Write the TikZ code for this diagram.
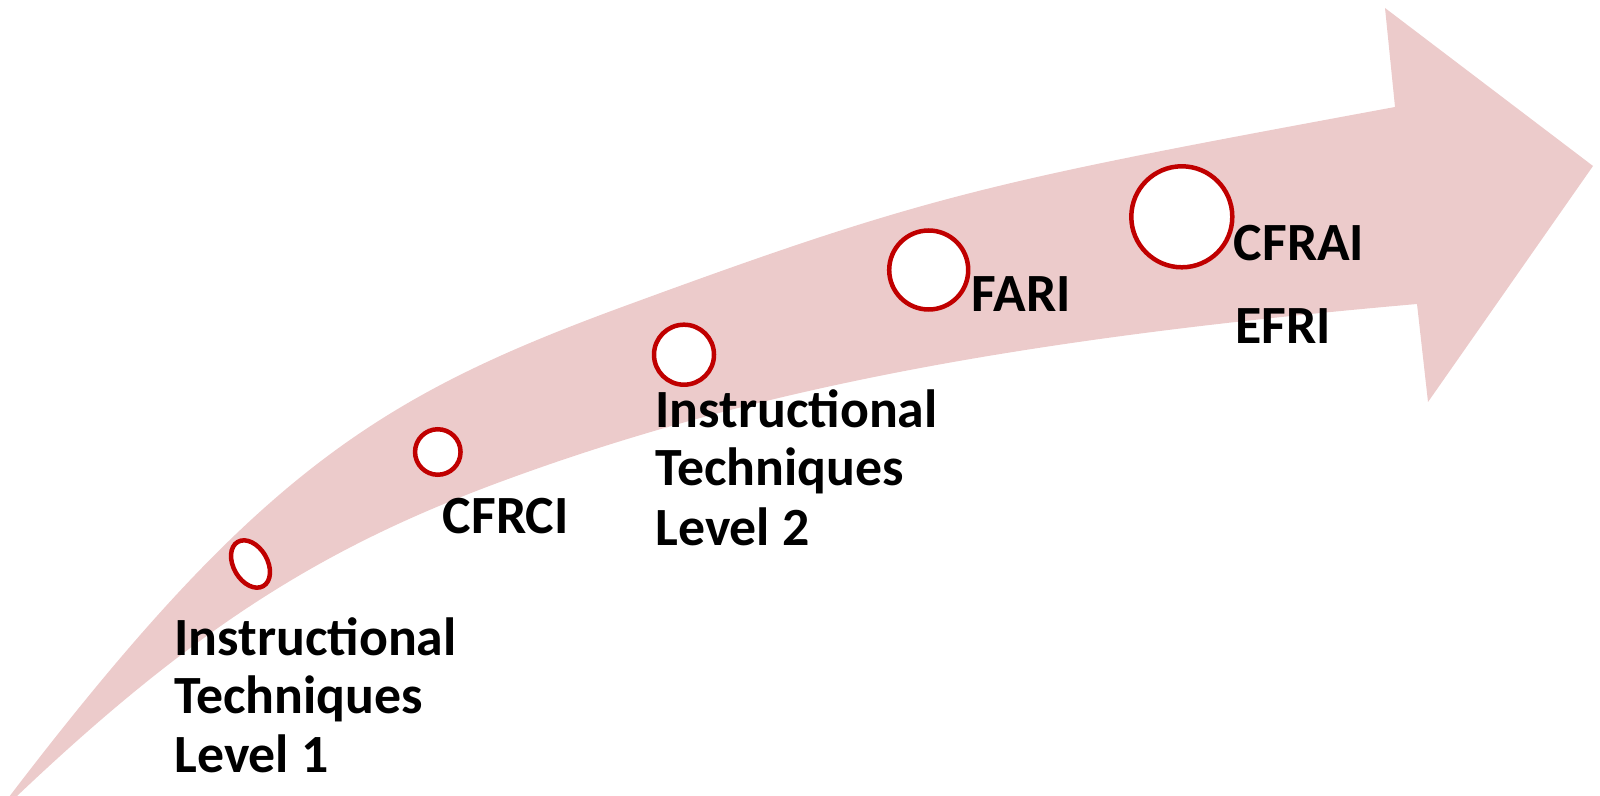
\documentclass[tikz,border=0pt]{standalone}
\usepackage{fontspec}
\setmainfont{Carlito}
\usetikzlibrary{shapes.geometric}
\definecolor{bandpink}{RGB}{236,203,203}
\definecolor{ringred}{RGB}{192,0,0}
\tikzset{
  ring/.style={circle, draw=ringred, fill=white, line width=2.25pt, inner sep=0pt},
  oval/.style={ellipse, draw=ringred, fill=white, line width=2.25pt, inner sep=0pt},
  lbl/.style={anchor=base west, inner sep=0pt, font=\fontsize{26.9}{29.4}\selectfont\bfseries}
}
\begin{document}
\begin{tikzpicture}[x=0.5pt,y=-0.5pt]
\useasboundingbox (0,0) rectangle (1600,796);
% curved arrow
\fill[bandpink] (9,797) .. controls (260,468) and (383,394) .. (633,303)
  .. controls (933,193) and (995,181) .. (1395,107)
  -- (1385,8) -- (1593,166) -- (1428,402) -- (1417,304)
  .. controls (1017,339) and (750,389.5) .. (500,482)
  .. controls (330,545) and (200,622) .. (16,797) -- cycle;
% milestones
\node[oval, minimum width=17pt, minimum height=25.5pt, rotate=30] (c1) at (250.5,564) {};
\node[ring, minimum size=22.75pt] (c2) at (437.8,452) {};
\node[ring, minimum size=30pt] (c3) at (684,354.7) {};
\node[ring, minimum size=39.5pt] (c4) at (928.7,270) {};
\node[ring, minimum size=50.5pt] (c5) at (1181.8,216.8) {};
% labels
\node[lbl] (l1a) at (174,655) {Instructional};
\node[lbl] (l1b) at (174,713.5) {Techniques};
\node[lbl] (l1c) at (174,772.5) {Level 1};
\node[lbl] (l2) at (442.5,533.5) {CFRCI};
\node[lbl] (l3a) at (655,427.5) {Instructional};
\node[lbl] (l3b) at (655,485.5) {Techniques};
\node[lbl] (l3c) at (655,545) {Level 2};
\node[lbl] (l4) at (971.5,311.7) {FARI};
\node[lbl] (l5) at (1233.5,261) {CFRAI};
\node[lbl] (l6) at (1235,343.3) {EFRI};
\end{tikzpicture}
\end{document}
